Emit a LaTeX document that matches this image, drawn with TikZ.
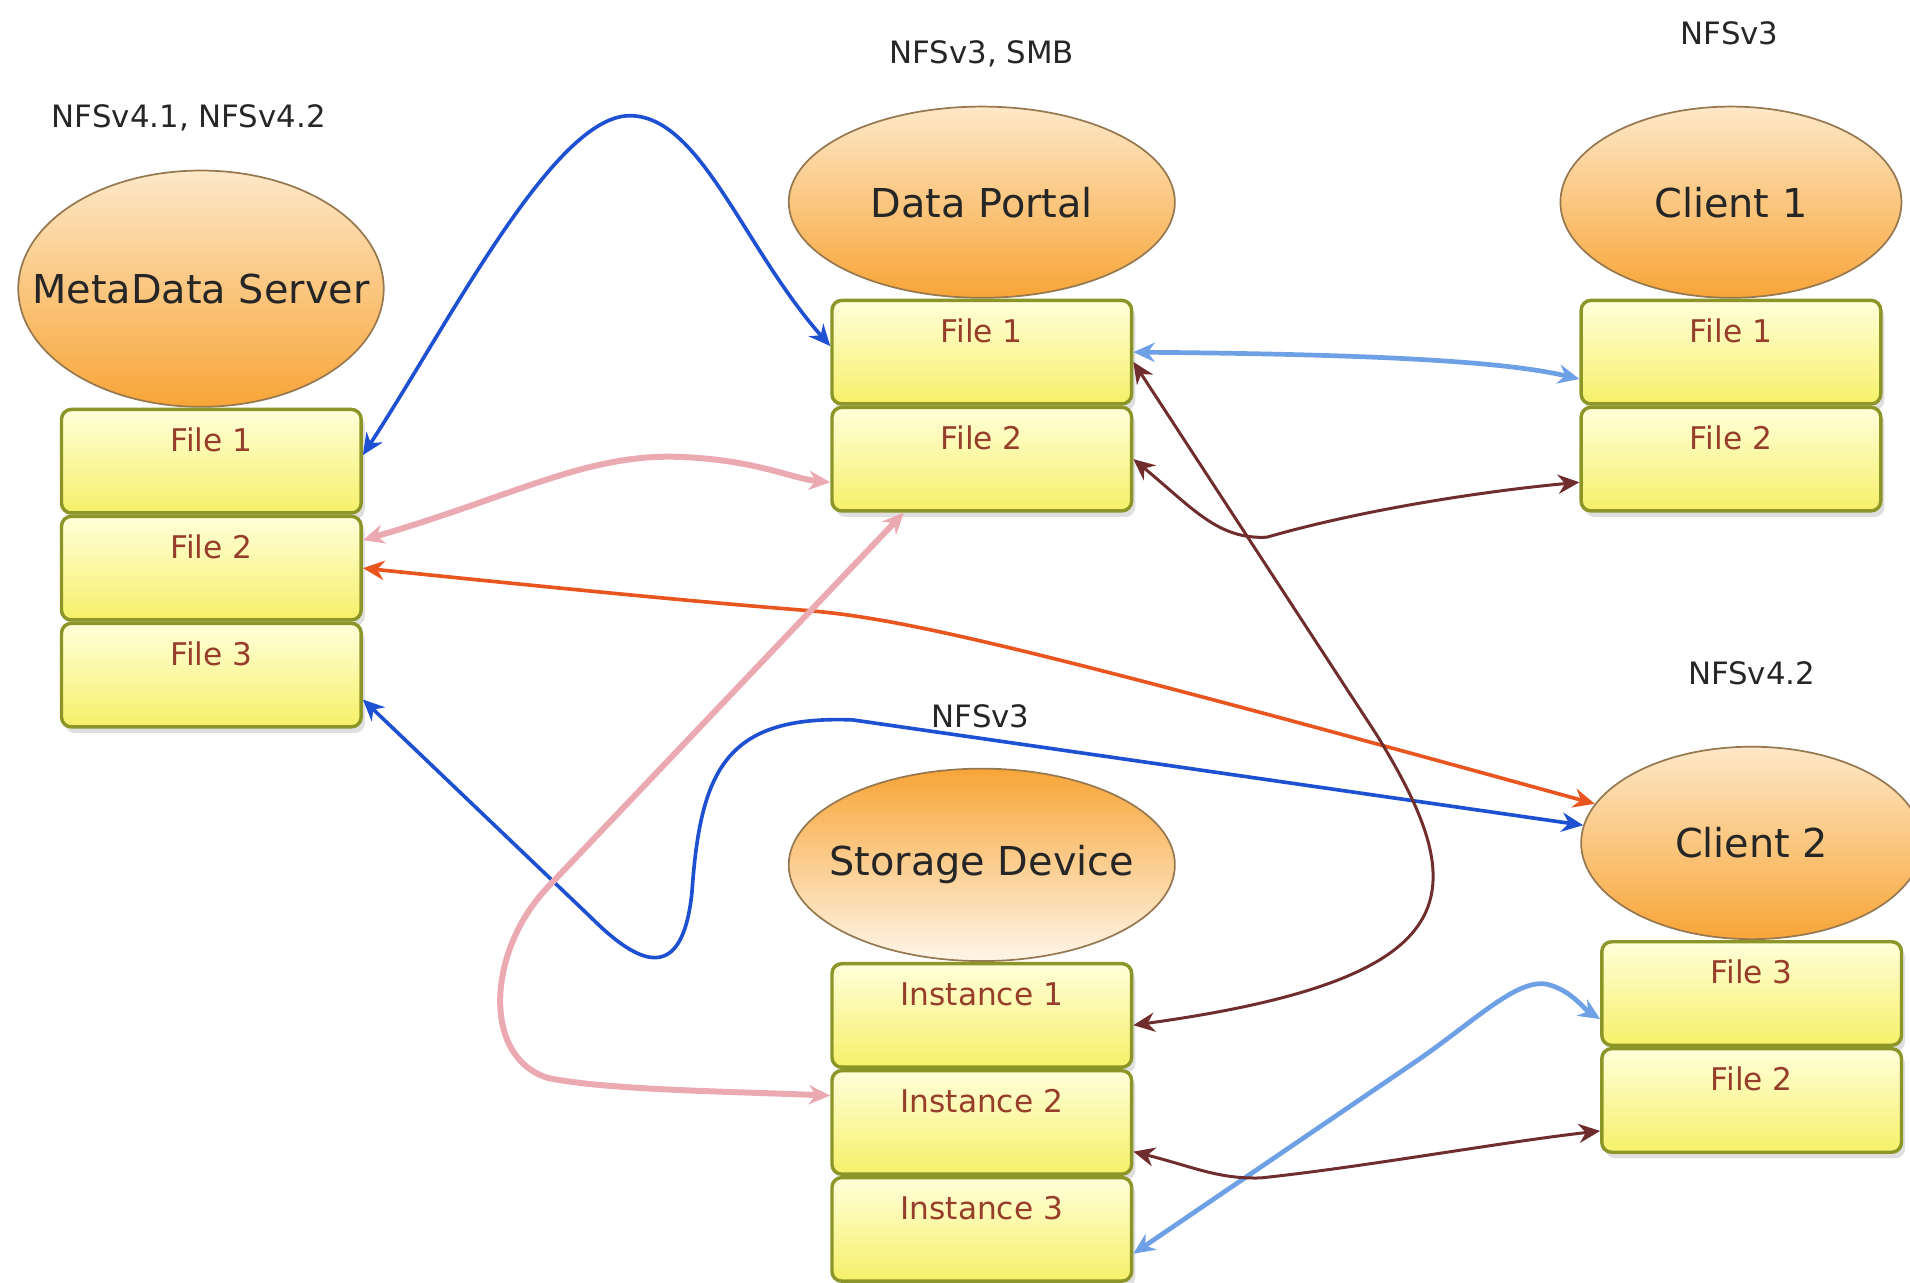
\documentclass[tikz,border=0pt]{standalone}
\usepackage{fontspec}
\setmainfont{DejaVu Sans}
\usepackage{xcolor}
\usetikzlibrary{positioning}
\usetikzlibrary{arrows.meta}
\usetikzlibrary{shapes.geometric,shadows}

\definecolor{nfsblue}{RGB}{30,80,210}
\definecolor{nfslight}{RGB}{110,160,230}
\definecolor{nfspink}{RGB}{235,170,178}
\definecolor{nfsbrown}{RGB}{112,45,45}
\definecolor{nfsorange}{RGB}{232,85,30}
\definecolor{filetext}{RGB}{150,62,42}
\definecolor{fileedge}{RGB}{140,150,40}
\definecolor{filelite}{RGB}{255,255,218}
\definecolor{filedeep}{RGB}{246,240,105}
\definecolor{hostedge}{RGB}{150,120,80}
\definecolor{hostlite}{RGB}{253,232,200}
\definecolor{hostdeep}{RGB}{248,165,55}

\newcommand{\hostlabel}[1]{\makebox[0pt]{#1}}

\begin{document}
\begin{tikzpicture}[
  host/.style={ellipse, draw=hostedge, line width=0.4pt, inner sep=0pt,
    top color=hostlite, bottom color=hostdeep,
    font=\fontsize{9.3}{11}\selectfont, text=black!85},
  filebox/.style={rectangle, rounded corners=0.8mm, draw=fileedge, line width=0.8pt,
    top color=filelite, bottom color=filedeep,
    minimum width=2.46cm, minimum height=0.85cm, inner xsep=0pt, inner ysep=1mm,
    text height=2.45mm, text depth=4.05mm,
    font=\fontsize{7.3}{9}\selectfont, text=filetext,
    drop shadow={shadow xshift=0.3mm, shadow yshift=-0.5mm, opacity=0.25}},
  proto/.style={font=\fontsize{7.2}{9}\selectfont, text=black!85},
  link/.style={{Stealth[length=5pt,width=4.5pt]}-{Stealth[length=5pt,width=4.5pt]}}
]
\useasboundingbox (0,0) rectangle (15.68,10.53);
%\draw[help lines] (0,0) grid (16,11);

\node[proto] (mdsproto) at (1.55,9.56) {NFSv4.1, NFSv4.2};
\node[proto] (dpproto) at (8.06,10.09) {NFSv3, SMB};
\node[proto] (claproto) at (14.20,10.26) {NFSv3};
\node[proto] (clbproto) at (14.38,5.00) {NFSv4.2};

\node[host, minimum width=3.0cm, minimum height=1.94cm] (mds) at (1.65,8.16) {\hostlabel{MetaData Server}};
\node[filebox, below=0pt of mds, xshift=0.85mm] (mfile1) {File 1};
\node[filebox, below=0pt of mfile1] (mfile2) {File 2};
\node[filebox, below=0pt of mfile2] (mfile3) {File 3};

\node[host, minimum width=3.17cm, minimum height=1.57cm] (dp) at (8.06,8.87) {\hostlabel{Data Portal}};
\node[filebox, below=0pt of dp] (dfile1) {File 1};
\node[filebox, below=0pt of dfile1] (dfile2) {File 2};

\node[host, minimum width=2.8cm, minimum height=1.57cm] (cla) at (14.21,8.87) {\hostlabel{Client 1}};
\node[filebox, below=0pt of cla] (cafile1) {File 1};
\node[filebox, below=0pt of cafile1] (cafile2) {File 2};

\node[host, minimum width=3.17cm, minimum height=1.58cm,
  top color=hostdeep, bottom color=hostlite!40!white] (sd) at (8.06,3.43) {\hostlabel{Storage Device}};
\node[filebox, below=0pt of sd] (inst1) {Instance 1};
\node[filebox, below=0pt of inst1] (inst2) {Instance 2};
\node[filebox, below=0pt of inst2] (inst3) {Instance 3};

\node[host, minimum width=2.8cm, minimum height=1.58cm] (clb) at (14.38,3.61) {\hostlabel{Client 2}};
\node[filebox, below=0pt of clb] (cbfile3) {File 3};
\node[filebox, below=0pt of cbfile3] (cbfile2) {File 2};

% metadata links
\draw[link, nfsblue, line width=0.85pt] ([yshift=0.5mm]mfile1.east) .. controls (3.7,7.9) and (4.55,9.58) .. (5.17,9.58) .. controls (5.75,9.58) and (6.1,8.5) .. ([yshift=0.5mm]dfile1.west);
\draw[link, nfspink, line width=1.4pt] ([yshift=2.3mm]mfile2.east) .. controls (4.2,6.45) and (4.8,6.8) .. (5.55,6.78) .. controls (6.2,6.76) and (6.5,6.6) .. ([yshift=-1.9mm]dfile2.west);
\draw[link, nfsorange, line width=0.85pt] (mfile2.east) .. controls (4.6,5.7) and (5.6,5.6) .. (6.6,5.52) .. controls (7.4,5.46) and (8.5,5.2) .. (clb.166);
\draw[link, nfsblue, line width=0.85pt] ([yshift=-2mm]mfile3.east) -- (4.85,3.0) .. controls (5.25,2.6) and (5.6,2.45) .. (5.68,3.2) .. controls (5.75,4.2) and (5.95,4.66) .. (7.0,4.62) -- (clb.174);

% data portal links
\draw[link, nfslight, line width=1.1pt] (dfile1.east) .. controls (11.5,7.62) and (12.4,7.55) .. ([yshift=-2.2mm]cafile1.west);
\draw[link, nfsbrown, line width=0.7pt] (dfile2.east) .. controls (9.8,6.35) and (10.0,6.1) .. (10.4,6.12) .. controls (11.2,6.35) and (12.2,6.5) .. ([yshift=-1.9mm]cafile2.west);
\draw[link, nfsbrown, line width=0.7pt] ([yshift=-0.8mm]dfile1.east) -- (11.3,4.5) .. controls (12.1,3.2) and (12.1,2.5) .. ([yshift=-0.8mm]inst1.east);
\draw[link, nfspink, line width=1.4pt] ([xshift=-6.4mm]dfile2.south) -- (4.5,3.25) .. controls (4.0,2.73) and (3.95,1.85) .. (4.5,1.68) .. controls (5.0,1.58) and (6.0,1.57) .. ([yshift=2.2mm]inst2.west);

% storage links
\draw[link, nfslight, line width=1.1pt] ([yshift=-2mm]inst3.east) -- (11.6,1.8) .. controls (12.1,2.14) and (12.45,2.5) .. (12.7,2.45) .. controls (12.9,2.4) and (13.0,2.25) .. ([yshift=-2.1mm]cbfile3.west);
\draw[link, nfsbrown, line width=0.7pt] ([yshift=-2.4mm]inst2.east) .. controls (9.8,0.95) and (10.0,0.85) .. (10.35,0.86) .. controls (11.2,0.95) and (12.3,1.15) .. ([yshift=-2.5mm]cbfile2.west);

\node[proto] (nfsthree) at (8.05,4.65) {NFSv3};
\end{tikzpicture}
\end{document}
